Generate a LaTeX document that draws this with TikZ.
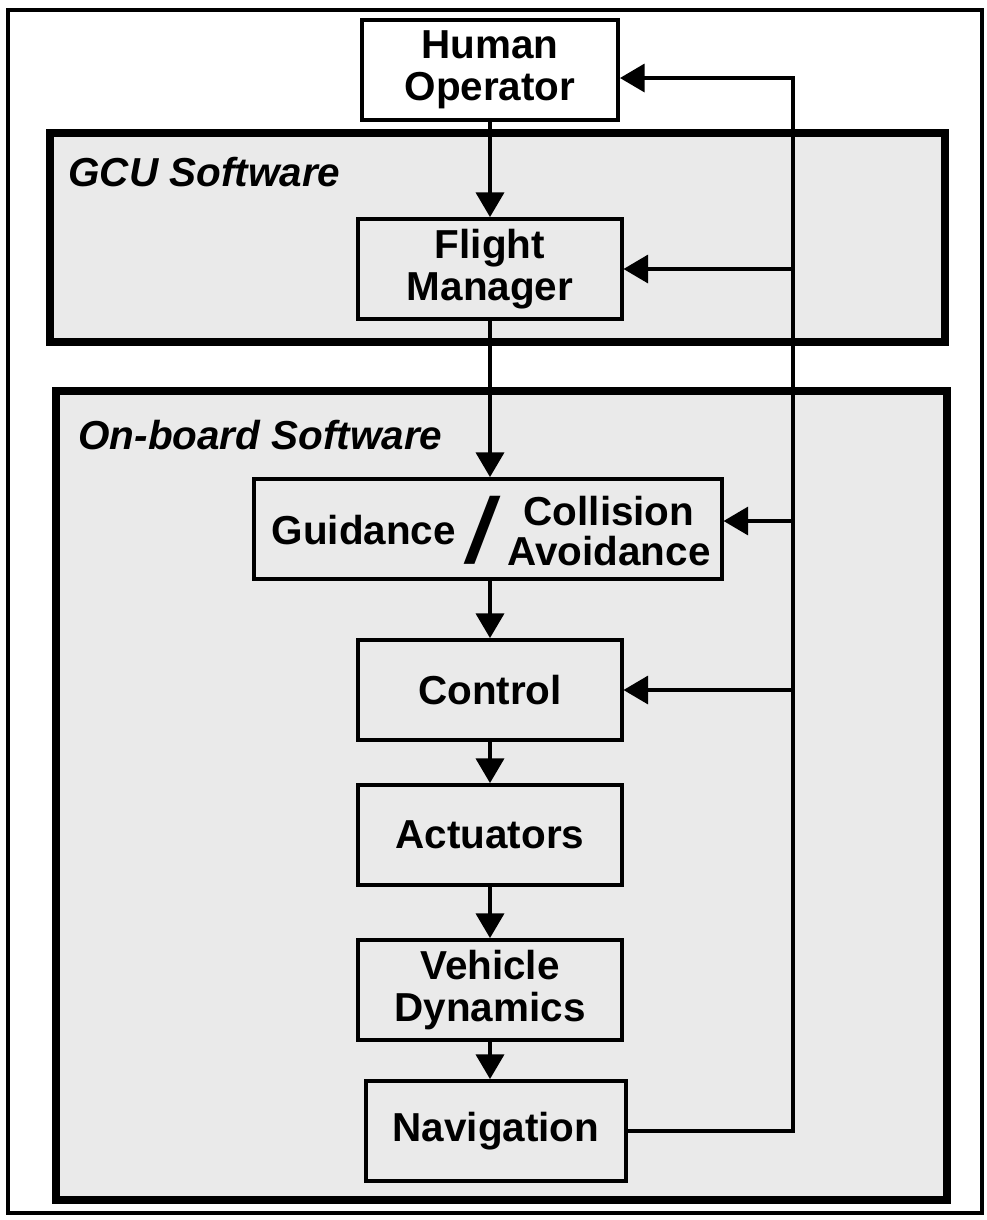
\documentclass[tikz,border=0pt]{standalone}
\usepackage{fontspec}
\setmainfont{Liberation Sans}
\usetikzlibrary{arrows.meta, positioning}
\definecolor{scangray}{RGB}{234,234,234}

\begin{document}
\begin{tikzpicture}[x=0.01cm, y=-0.01cm, font=\fontsize{11.5}{11.8}\selectfont\bfseries,
  blk/.style={draw, line width=1.1pt, align=center, minimum width=2.63cm, minimum height=1.0cm, inner sep=2pt},
  frame/.style={draw, line width=2.3pt, fill=scangray},
  flow/.style={-{Triangle[width=8pt,length=7pt]}, line width=0.9pt}]
\useasboundingbox (0,0) rectangle (987,1220);
% frames
\draw[line width=1.3pt] (8,10) rectangle (982,1213);
\draw[frame] (50,133) rectangle (945,342);
\draw[frame] (56,391) rectangle (947,1200);
\node[anchor=west, font=\fontsize{11.5}{11.8}\selectfont\bfseries\itshape] (gcu) at (56,172) {GCU Software};
\node[anchor=west, font=\fontsize{11.5}{11.8}\selectfont\bfseries\itshape] (onboard) at (66,435) {On-board Software};
% blocks
\node[blk, minimum width=2.56cm] (human) at (490,70) {Human\\Operator};
\node[blk] (flight) at (490,269) {Flight\\Manager};
\node[blk, minimum width=4.67cm] (guid) at (488,529) {};
\node[anchor=west, inner sep=1pt] (guidtxt) at ([xshift=0.15cm, yshift=-0.01cm]guid.west) {Guidance};
\node[right=2pt of guidtxt, inner sep=0pt, font=\fontsize{26}{26}\selectfont\bfseries\itshape] (slash) {/};
\coordinate (collmid) at (609,531);
\node[above=0pt of collmid, inner sep=1.3pt] (coll) {Collision};
\node[below=0pt of collmid, inner sep=1.3pt] (avoid) {Avoidance};
\node[blk] (ctrl) at (490,690) {Control};
\node[blk] (act) at (490,835) {Actuators};
\node[blk] (veh) at (490,990) {Vehicle\\Dynamics};
\node[blk, minimum width=2.6cm] (nav) at (496,1131) {Navigation};
% forward path
\draw[flow] (human) -- (human |- flight.north);
\draw[flow] (flight) -- (flight |- guid.north);
\draw[flow] (guid.south -| ctrl) -- (ctrl);
\draw[flow] (ctrl) -- (act);
\draw[flow] (act) -- (veh);
\draw[flow] (veh) -- (veh |- nav.north);
% feedback from navigation
\coordinate (bus) at (793,78);
\draw[flow] (nav.east) -| (bus) -- (bus -| human.east);
\draw[flow] (bus |- flight.east) -- (flight.east);
\draw[flow] ([yshift=0.08cm]guid.east -| bus) -- ([yshift=0.08cm]guid.east);
\draw[flow] (bus |- ctrl.east) -- (ctrl.east);
\end{tikzpicture}
\end{document}
